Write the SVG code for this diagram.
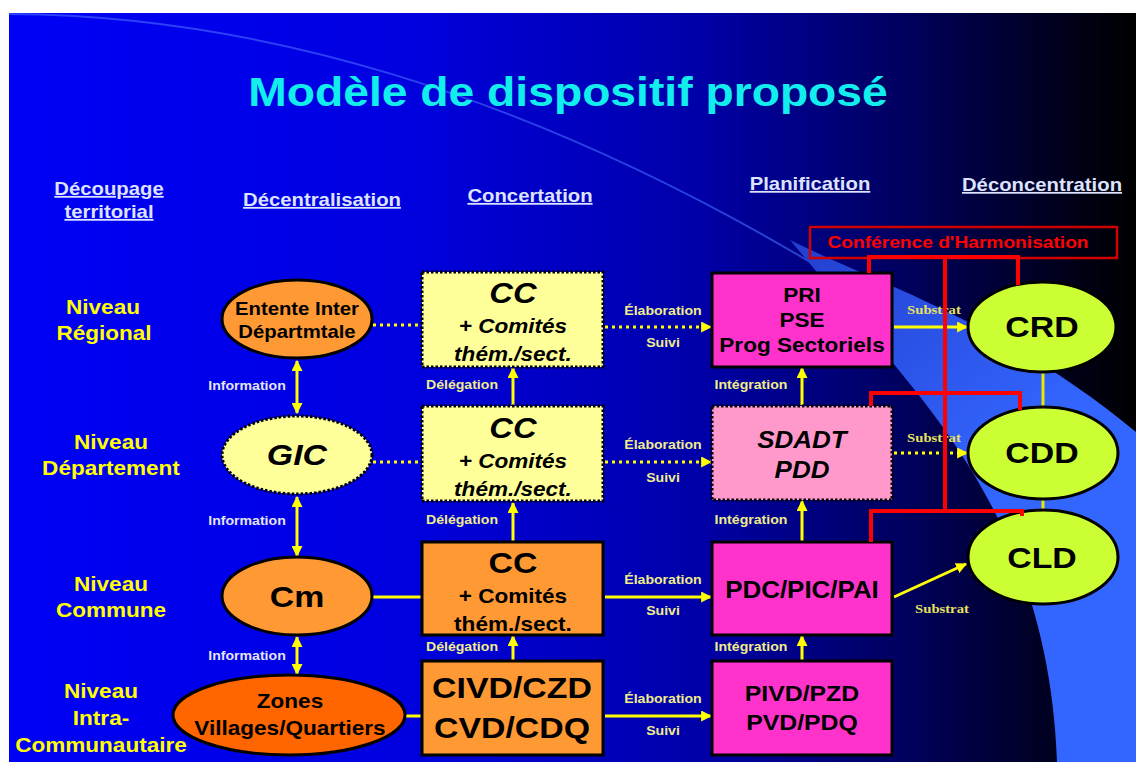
<svg xmlns="http://www.w3.org/2000/svg" width="1136" height="762" viewBox="0 0 1136 762">
<defs>
<linearGradient id="bg" gradientUnits="userSpaceOnUse" x1="9" y1="0" x2="1136" y2="0">
<stop offset="0" stop-color="#0000f6"/>
<stop offset="0.347" stop-color="#0000e0"/>
<stop offset="0.613" stop-color="#0000a8"/>
<stop offset="0.79" stop-color="#000060"/>
<stop offset="0.924" stop-color="#000020"/>
<stop offset="1" stop-color="#000000"/>
</linearGradient>
<linearGradient id="band" gradientUnits="userSpaceOnUse" x1="800" y1="250" x2="1000" y2="480">
<stop offset="0" stop-color="#2440d0"/>
<stop offset="1" stop-color="#3366ff"/>
</linearGradient>
<marker id="ah" viewBox="0 0 10 10" refX="9" refY="5" markerWidth="11" markerHeight="11" markerUnits="userSpaceOnUse" orient="auto-start-reverse">
<path d="M0,0 L10,5 L0,10 Z" fill="#ffff00"/>
</marker>
<style>
text { font-family: "Liberation Sans", Arial, sans-serif; font-weight: bold; text-anchor: middle; transform-box: fill-box; transform-origin: center; transform: scaleX(1.128); }
.title { font-size: 41px; fill: #12eeee; }
.hdr { font-size: 18px; fill: #dde2ff; text-decoration: underline; }
.row { font-size: 20px; fill: #ffff00; }
.lbl { font-size: 12.5px; fill: #f0ec8c; }
.info { font-size: 12.5px; fill: #e4e4f4; }
.sub { font-family: "Liberation Serif", "Times New Roman", serif; font-size: 13px; fill: #e8e060; }
.k { fill: #000000; }
.it { font-style: italic; }
.solid { stroke: #000000; stroke-width: 3; }
.dot { stroke: #000000; stroke-width: 3; stroke-dasharray: 2.5 2; }
.yl { stroke: #ffff00; stroke-width: 3; fill: none; }
.yd { stroke: #ffff00; stroke-width: 3; stroke-dasharray: 3 4; fill: none; }
.yt { stroke: #e8e800; stroke-width: 3; fill: none; }
.red { stroke: #ff0000; stroke-width: 4; fill: none; }
.orange { fill: #ff9933; }
.zone { fill: #ff6600; }
.pale { fill: #ffff99; }
.mag { fill: #ff33cc; }
.pink { fill: #ff99cc; }
.lime { fill: #ccff33; }
</style>
</defs>

<g id="background">
<rect x="0" y="0" width="1136" height="762" fill="#ffffff"/>
<rect x="9" y="13" width="1127" height="749" fill="url(#bg)"/>
<path d="M9,14 C250,15 520,90 810,262" fill="none" stroke="#4a6aff" stroke-width="2" stroke-opacity="0.6"/>
<path d="M790,240 C880,285 1000,320 1136,432 L1136,762 L1057,762 C1050,560 960,445 893,363 Z" fill="url(#band)"/>
</g>

<text class="title" x="568" y="106">Modèle de dispositif proposé</text>

<g id="headers">
<text class="hdr" x="109" y="195">Découpage</text>
<text class="hdr" x="109" y="218">territorial</text>
<text class="hdr" x="322" y="206">Décentralisation</text>
<text class="hdr" x="530" y="202">Concertation</text>
<text class="hdr" x="810" y="190">Planification</text>
<text class="hdr" x="1042" y="191">Déconcentration</text>
</g>

<g id="levels">
<text class="row" x="103" y="314">Niveau</text>
<text class="row" x="104" y="340">Régional</text>
<text class="row" x="111" y="449">Niveau</text>
<text class="row" x="111" y="475">Département</text>
<text class="row" x="111" y="591">Niveau</text>
<text class="row" x="111" y="617">Commune</text>
<text class="row" x="101" y="698">Niveau</text>
<text class="row" x="101" y="725">Intra-</text>
<text class="row" x="101" y="752">Communautaire</text>
</g>

<g id="connectors">
<path class="yl" d="M297,361 L297,413" marker-start="url(#ah)" marker-end="url(#ah)"/>
<path class="yl" d="M297,497 L297,556" marker-start="url(#ah)" marker-end="url(#ah)"/>
<path class="yl" d="M297,637 L297,674" marker-start="url(#ah)" marker-end="url(#ah)"/>
<path class="yl" d="M513,405 L513,368" marker-end="url(#ah)"/>
<path class="yl" d="M513,541 L513,503" marker-end="url(#ah)"/>
<path class="yl" d="M513,660 L513,636" marker-end="url(#ah)"/>
<path class="yl" d="M802,405 L802,368" marker-end="url(#ah)"/>
<path class="yl" d="M802,541 L802,501" marker-end="url(#ah)"/>
<path class="yl" d="M802,660 L802,636" marker-end="url(#ah)"/>
<path class="yd" d="M373,325 L421,325"/>
<path class="yd" d="M373,462 L421,462"/>
<path class="yl" d="M373,597 L421,597"/>
<path class="yl" d="M406,716 L421,716"/>
<path class="yd" d="M605,327 L711,327" marker-end="url(#ah)"/>
<path class="yd" d="M605,462 L711,462" marker-end="url(#ah)"/>
<path class="yl" d="M605,597 L711,597" marker-end="url(#ah)"/>
<path class="yl" d="M605,716 L711,716" marker-end="url(#ah)"/>
<path class="yl" d="M894,327 L967,327" marker-end="url(#ah)"/>
<path class="yd" d="M894,453 L967,453" marker-end="url(#ah)"/>
<path class="yl" d="M894,597 L966,564" marker-end="url(#ah)"/>
<path class="yt" d="M1043,373 L1043,407"/>
<path class="yt" d="M1043,500 L1043,510"/>
</g>

<g id="labels">
<text class="info" x="247" y="390">Information</text>
<text class="info" x="247" y="525">Information</text>
<text class="info" x="247" y="660">Information</text>
<text class="lbl" x="462" y="389">Délégation</text>
<text class="lbl" x="462" y="524">Délégation</text>
<text class="lbl" x="462" y="651">Délégation</text>
<text class="lbl" x="751" y="389">Intégration</text>
<text class="lbl" x="751" y="524">Intégration</text>
<text class="lbl" x="751" y="651">Intégration</text>
<text class="lbl" x="663" y="315">Élaboration</text>
<text class="lbl" x="663" y="347">Suivi</text>
<text class="lbl" x="663" y="449">Élaboration</text>
<text class="lbl" x="663" y="482">Suivi</text>
<text class="lbl" x="663" y="584">Élaboration</text>
<text class="lbl" x="663" y="615">Suivi</text>
<text class="lbl" x="663" y="703">Élaboration</text>
<text class="lbl" x="663" y="735">Suivi</text>
<text class="sub" x="934" y="314">Substrat</text>
<text class="sub" x="934" y="442">Substrat</text>
<text class="sub" x="942" y="613">Substrat</text>
</g>

<g id="entente">
<ellipse class="orange solid" cx="297" cy="319" rx="75" ry="39"/>
<text class="k" x="297" y="315" style="font-size:18px">Entente Inter</text>
<text class="k" x="297" y="338" style="font-size:18px">Départmtale</text>
</g>
<g id="gic">
<ellipse class="pale dot" cx="297" cy="455" rx="75" ry="39"/>
<text class="k it" x="297" y="465" style="font-size:30px">GIC</text>
</g>
<g id="cm">
<ellipse class="orange solid" cx="297" cy="596" rx="75" ry="39"/>
<text class="k" x="297" y="607" style="font-size:30px">Cm</text>
</g>
<g id="zones">
<ellipse class="zone solid" cx="289" cy="715" rx="116" ry="40"/>
<text class="k" x="290" y="708" style="font-size:20px">Zones</text>
<text class="k" x="290" y="735" style="font-size:20px">Villages/Quartiers</text>
</g>

<g id="cc-regional">
<rect class="pale dot" x="422" y="272" width="181" height="95"/>
<text class="k it" x="513" y="303" style="font-size:29px">CC</text>
<text class="k it" x="513" y="333" style="font-size:20px">+ Comités</text>
<text class="k it" x="513" y="361" style="font-size:20px">thém./sect.</text>
</g>
<g id="cc-departement">
<rect class="pale dot" x="422" y="406" width="181" height="95"/>
<text class="k it" x="513" y="438" style="font-size:29px">CC</text>
<text class="k it" x="513" y="468" style="font-size:20px">+ Comités</text>
<text class="k it" x="513" y="496" style="font-size:20px">thém./sect.</text>
</g>
<g id="cc-commune">
<rect class="orange solid" x="422" y="542" width="181" height="93"/>
<text class="k" x="513" y="573" style="font-size:30px">CC</text>
<text class="k" x="513" y="603" style="font-size:20px">+ Comités</text>
<text class="k" x="513" y="631" style="font-size:20px">thém./sect.</text>
</g>
<g id="civd">
<rect class="orange solid" x="422" y="661" width="181" height="94"/>
<text class="k" x="512" y="698" style="font-size:30px">CIVD/CZD</text>
<text class="k" x="512" y="738" style="font-size:30px">CVD/CDQ</text>
</g>

<g id="pri">
<rect class="mag solid" x="712" y="273" width="180" height="94"/>
<text class="k" x="802" y="302" style="font-size:20px">PRI</text>
<text class="k" x="802" y="327" style="font-size:20px">PSE</text>
<text class="k" x="802" y="352" style="font-size:20px">Prog Sectoriels</text>
</g>
<g id="sdadt">
<rect class="pink dot" x="712" y="406" width="180" height="94"/>
<text class="k it" x="802" y="448" style="font-size:23px">SDADT</text>
<text class="k it" x="802" y="478" style="font-size:23px">PDD</text>
</g>
<g id="pdc">
<rect class="mag solid" x="712" y="542" width="180" height="93"/>
<text class="k" x="802" y="598" style="font-size:23px">PDC/PIC/PAI</text>
</g>
<g id="pivd">
<rect class="mag solid" x="712" y="661" width="180" height="94"/>
<text class="k" x="802" y="701" style="font-size:22px">PIVD/PZD</text>
<text class="k" x="802" y="730" style="font-size:22px">PVD/PDQ</text>
</g>

<g id="crd">
<ellipse class="lime solid" cx="1042" cy="327" rx="74" ry="45"/>
<text class="k" x="1042" y="337" style="font-size:30px">CRD</text>
</g>
<g id="cdd">
<ellipse class="lime solid" cx="1043" cy="453" rx="75" ry="46"/>
<text class="k" x="1042" y="463" style="font-size:30px">CDD</text>
</g>
<g id="cld">
<ellipse class="lime solid" cx="1043" cy="557" rx="75" ry="47"/>
<text class="k" x="1042" y="568" style="font-size:30px">CLD</text>
</g>

<g id="conference">
<rect x="810" y="227" width="307" height="31" fill="none" stroke="#d00000" stroke-width="2.5"/>
<text x="958" y="248" style="font-size:17px; fill:#ff0000">Conférence d'Harmonisation</text>
</g>

<g id="harmonisation-links">
<path class="red" d="M869,273 L869,257 L1018,257 L1018,285"/>
<path class="red" d="M945,257 L945,511"/>
<path class="red" d="M871,406 L871,393 L1020,393 L1020,410"/>
<path class="red" d="M871,542 L871,511 L1022,511 L1022,516"/>
</g>
</svg>
